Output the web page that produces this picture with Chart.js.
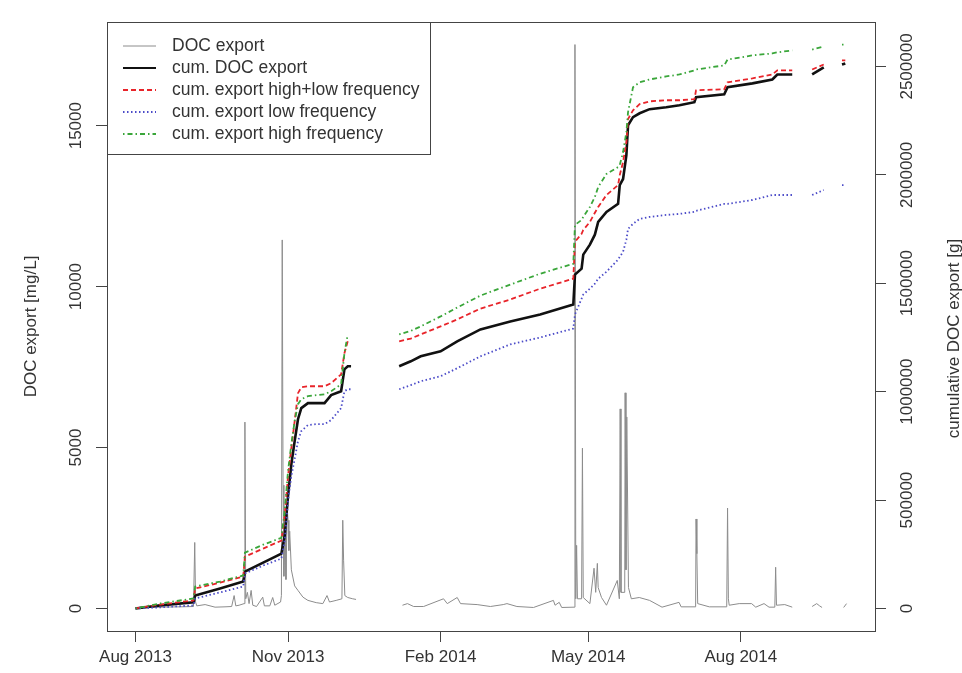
<!DOCTYPE html>
<html>
<head>
<meta charset="utf-8">
<script src="https://cdn.jsdelivr.net/npm/chart.js@4.4.1/dist/chart.umd.min.js"></script>
<style>
  html, body { margin: 0; padding: 0; background: #ffffff; }
  #wrap { width: 962px; height: 673px; }
</style>
</head>
<body>
<div id="wrap"><canvas id="c" width="962" height="673"></canvas></div>
<script>
// ---------------- data ----------------
// DOC export (left axis, mg/L); null marks a gap in the record
const docDates = [
  "2013-08-01","2013-08-16","2013-08-28","2013-09-05","2013-09-05 18","2013-09-06 06","2013-09-07",
  "2013-09-12","2013-09-18","2013-09-24","2013-09-28","2013-09-29 12","2013-09-30 12","2013-10-02 12",
  "2013-10-05 12","2013-10-06","2013-10-06 12","2013-10-07 12","2013-10-08 12","2013-10-09 18","2013-10-10 18",
  "2013-10-13","2013-10-16 18","2013-10-17 18","2013-10-21","2013-10-22 18","2013-10-24","2013-10-27 12",
  "2013-10-28","2013-10-28 12","2013-10-29","2013-10-29 12","2013-10-30 06","2013-10-30 18","2013-10-31 12",
  "2013-11-01","2013-11-01 12","2013-11-02","2013-11-03","2013-11-05","2013-11-07","2013-11-10",
  "2013-11-13","2013-11-18","2013-11-22","2013-11-24 12","2013-11-26","2013-11-30","2013-12-03 12",
  "2013-12-04","2013-12-04 12","2013-12-05 06","2013-12-07","2013-12-10","2013-12-12","2013-12-25",
  "2014-01-09","2014-01-12","2014-01-15 18","2014-01-21 18","2014-02-02 18","2014-02-05","2014-02-11",
  "2014-02-13","2014-02-23","2014-03-03","2014-03-10 18","2014-03-13","2014-03-19","2014-03-29",
  "2014-04-10","2014-04-11","2014-04-13 12","2014-04-15","2014-04-22 12","2014-04-23","2014-04-23 12",
  "2014-04-24","2014-04-24 12","2014-04-27","2014-04-27 12","2014-04-28","2014-05-02","2014-05-04 12",
  "2014-05-05 12","2014-05-06 12","2014-05-07","2014-05-09","2014-05-12","2014-05-18 12","2014-05-19 18",
  "2014-05-20 06","2014-05-20 18","2014-05-23","2014-05-23 06","2014-05-23 18","2014-05-24 06","2014-05-25 06",
  "2014-05-27","2014-05-31 18","2014-06-07","2014-06-14 12","2014-06-24 18","2014-06-26","2014-07-04 18",
  "2014-07-05","2014-07-05 12","2014-07-06","2014-07-13","2014-07-23 12","2014-07-24","2014-07-24 12",
  "2014-07-25","2014-07-31","2014-08-07 12","2014-08-10","2014-08-15","2014-08-18","2014-08-21 12",
  "2014-08-22","2014-08-22 12","2014-08-27 12","2014-09-01","2014-09-07",
  "2014-09-13","2014-09-15 18","2014-09-17 12","2014-09-19","2014-09-25",
  "2014-10-02","2014-10-03 18"
];
const docValues = [
  30,40,50,60,2050,200,80,
  120,40,50,60,400,80,100,
  150,5790,300,500,150,560,100,
  60,350,80,80,340,100,200,
  400,11450,3830,1000,2500,900,3140,
  2740,1800,2400,1200,700,560,350,
  250,180,150,400,200,250,300,
  2740,1500,400,340,300,280,null,
  100,150,60,60,300,150,340,
  150,120,60,120,150,60,30,
  250,100,190,30,40,17520,300,
  1960,300,300,4980,340,150,1250,
  500,1400,650,340,100,870,300,
  6200,500,500,6700,1200,5950,650,
  300,340,250,40,190,50,50,
  2780,1700,150,50,50,3120,300,
  100,150,150,40,150,40,40,
  1280,100,120,40,null,
  60,150,80,30,null,
  30,150
];

// cumulative series (right axis, g); null marks a gap
const cumDates = [
  "2013-08-01","2013-08-16","2013-09-05","2013-09-06","2013-09-21","2013-10-05","2013-10-06","2013-10-17",
  "2013-10-28","2013-10-30","2013-11-01","2013-11-03","2013-11-05","2013-11-07","2013-11-09","2013-11-13",
  "2013-11-18","2013-11-23","2013-11-27","2013-12-03","2013-12-05","2013-12-07","2013-12-09",
  "2013-12-25",
  "2014-01-07","2014-01-14","2014-01-20","2014-02-01","2014-02-11","2014-02-25","2014-03-15","2014-04-02",
  "2014-04-22","2014-04-23","2014-04-27","2014-04-28","2014-05-02","2014-05-05","2014-05-07","2014-05-12",
  "2014-05-19","2014-05-20","2014-05-22","2014-05-24","2014-05-25","2014-05-28","2014-06-01","2014-06-07",
  "2014-06-17","2014-06-25","2014-07-04","2014-07-05","2014-07-22","2014-07-24","2014-08-08","2014-08-20",
  "2014-08-23","2014-09-01",
  "2014-09-07",
  "2014-09-13","2014-09-20",
  "2014-09-26",
  "2014-10-01","2014-10-03"
];
const cumDOC = [
  0,14000,28000,60000,92000,124000,170000,211000,
  253000,336000,519000,666000,772000,873000,924000,947000,
  947000,947000,984000,1002000,1103000,1117000,1117000,
  null,
  1117000,1140000,1163000,1186000,1232000,1287000,1324000,1356000,
  1402000,1540000,1567000,1632000,1678000,1724000,1783000,1829000,
  1866000,1953000,1981000,2091000,2229000,2266000,2284000,2303000,
  2312000,2321000,2335000,2358000,2372000,2404000,2422000,2440000,
  2463000,2463000,
  null,
  2463000,2496000,
  null,
  2509000,2514000
];
const cumHighLow = [
  0,18000,37000,92000,119000,147000,239000,276000,
  313000,427000,611000,740000,864000,993000,1020000,1025000,
  1025000,1025000,1039000,1080000,1177000,1232000,null,
  null,
  1232000,1245000,1264000,1301000,1333000,1383000,1425000,1475000,
  1521000,1691000,1728000,1746000,1783000,1825000,1852000,1907000,
  1953000,1999000,2059000,2151000,2257000,2298000,2326000,2339000,
  2344000,2344000,2349000,2390000,2395000,2427000,2445000,2463000,
  2482000,2482000,
  null,
  2486000,2509000,
  null,
  2528000,2528000
];
const cumLow = [
  0,5000,14000,46000,74000,101000,161000,198000,
  230000,313000,496000,611000,689000,772000,818000,846000,
  850000,850000,869000,924000,1002000,1011000,1011000,
  null,
  1011000,1030000,1048000,1071000,1108000,1163000,1218000,1250000,
  1291000,1356000,1429000,1448000,1475000,1498000,1521000,1553000,
  1609000,1622000,1645000,1701000,1751000,1774000,1797000,1806000,
  1815000,1820000,1829000,1834000,1866000,1866000,1884000,1907000,
  1907000,1907000,
  null,
  1907000,1930000,
  null,
  1953000,1953000
];
const cumHigh = [
  0,23000,46000,101000,124000,152000,257000,294000,
  326000,450000,634000,758000,864000,942000,965000,979000,
  984000,988000,1002000,1034000,1177000,1264000,null,
  null,
  1264000,1280000,1301000,1347000,1388000,1443000,1494000,1544000,
  1590000,1769000,1792000,1806000,1852000,1898000,1944000,2004000,
  2036000,2045000,2105000,2197000,2289000,2404000,2427000,2440000,
  2454000,2463000,2482000,2486000,2505000,2532000,2551000,2560000,
  2565000,2574000,
  null,
  2578000,2592000,
  null,
  2601000,2601000
];

// axes
const xTickDates  = ["2013-08-01","2013-11-01","2014-02-01","2014-05-01","2014-08-01"];
const xTickLabels = ["Aug 2013","Nov 2013","Feb 2014","May 2014","Aug 2014"];
const leftTicks   = [0, 5000, 10000, 15000];
const rightTicks  = [0, 500000, 1000000, 1500000, 2000000, 2500000];

// ---------------- helpers ----------------
const ORIGIN = Date.UTC(2013, 7, 1);
function dayOf(s) {
  const parts = s.split(' ');
  const ymd = parts[0].split('-').map(Number);
  const h = parts.length > 1 ? Number(parts[1]) : 0;
  return (Date.UTC(ymd[0], ymd[1] - 1, ymd[2], h) - ORIGIN) / 864e5;
}
function pts(dates, vals) {
  return dates.map((d, i) => ({ x: dayOf(d), y: vals[i] }));
}
const xTickDays = xTickDates.map(dayOf);

// axis ranges with R-style 4% extension
function extend(lo, hi) { const r = hi - lo; return [lo - 0.04 * r, hi + 0.04 * r]; }
const allDocDays = docDates.map(dayOf);
const xR = extend(0, Math.max(...allDocDays));
const docNums = docValues.filter(v => v !== null);
const yL = extend(0, Math.max(...docNums));
const cumNums = [...cumDOC, ...cumHighLow, ...cumLow, ...cumHigh].filter(v => v !== null);
const yR = extend(0, Math.max(...cumNums));

const FONT = "'Liberation Sans', Arial, sans-serif";
const TXT = '#333333';

const datasets = [
  { label: 'DOC export', data: pts(docDates, docValues), yAxisID: 'yL',
    borderColor: '#8c8c8c', borderWidth: 1, order: 10 },
  { label: 'cum. DOC export', data: pts(cumDates, cumDOC), yAxisID: 'yR',
    borderColor: '#111111', borderWidth: 2.6, order: 3 },
  { label: 'cum. export high+low frequency', data: pts(cumDates, cumHighLow), yAxisID: 'yR',
    borderColor: '#e8242a', borderWidth: 1.8, borderDash: [5, 3], order: 2 },
  { label: 'cum. export low frequency', data: pts(cumDates, cumLow), yAxisID: 'yR',
    borderColor: '#4b4bc8', borderWidth: 1.8, borderDash: [1.5, 2.5], order: 1 },
  { label: 'cum. export high frequency', data: pts(cumDates, cumHigh), yAxisID: 'yR',
    borderColor: '#3aa63a', borderWidth: 1.8, borderDash: [1.5, 3, 5, 3], order: 0 }
];

// ---------------- decorations plugin (R-style box, rotated labels, legend) ----------------
const rDecor = {
  id: 'rDecor',
  afterDraw(chart) {
    const ctx = chart.ctx;
    const a = chart.chartArea;
    const sl = chart.scales.yL, sr = chart.scales.yR;
    ctx.save();
    // plot frame
    ctx.strokeStyle = '#444444';
    ctx.lineWidth = 1;
    ctx.strokeRect(Math.round(a.left) + 0.5, Math.round(a.top) + 0.5,
                   Math.round(a.right - a.left), Math.round(a.bottom - a.top));

    ctx.fillStyle = TXT;
    ctx.font = '17px ' + FONT;
    ctx.textAlign = 'center';
    ctx.textBaseline = 'middle';
    // left tick labels (rotated)
    leftTicks.forEach(v => {
      const y = sl.getPixelForValue(v);
      ctx.save(); ctx.translate(76, y); ctx.rotate(-Math.PI / 2);
      ctx.fillText(String(v), 0, 0); ctx.restore();
    });
    // right tick labels (rotated)
    rightTicks.forEach(v => {
      const y = sr.getPixelForValue(v);
      ctx.save(); ctx.translate(907, y); ctx.rotate(-Math.PI / 2);
      ctx.fillText(String(v), 0, 0); ctx.restore();
    });
    // axis titles
    const cy = (a.top + a.bottom) / 2;
    ctx.save(); ctx.translate(31, cy); ctx.rotate(-Math.PI / 2);
    ctx.fillText('DOC export [mg/L]', 0, 0); ctx.restore();
    ctx.save(); ctx.translate(954, cy + 12); ctx.rotate(-Math.PI / 2);
    ctx.fillText('cumulative DOC export [g]', 0, 0); ctx.restore();

    // legend box
    const lx = Math.round(a.left) + 0.5, ly = Math.round(a.top) + 0.5;
    const lw = 323, lh = 132;
    ctx.fillStyle = '#ffffff';
    ctx.fillRect(lx, ly, lw, lh);
    ctx.strokeStyle = '#444444';
    ctx.lineWidth = 1;
    ctx.strokeRect(lx, ly, lw, lh);
    const rows = [46, 68, 90, 112, 134];
    chart.data.datasets.forEach((ds, i) => {
      const y = rows[i];
      ctx.save();
      ctx.strokeStyle = ds.borderColor;
      ctx.lineWidth = Math.min(ds.borderWidth, 2);
      ctx.setLineDash(ds.borderDash || []);
      ctx.beginPath(); ctx.moveTo(123, y); ctx.lineTo(156, y); ctx.stroke();
      ctx.restore();
      ctx.fillStyle = TXT;
      ctx.textAlign = 'left';
      ctx.textBaseline = 'middle';
      ctx.font = '17.5px ' + FONT;
      ctx.fillText(ds.label, 172, y);
    });
    ctx.restore();
  }
};

const axisGrid = { drawOnChartArea: false, drawTicks: true, tickLength: 11, color: '#444444', lineWidth: 1 };

new Chart(document.getElementById('c'), {
  type: 'line',
  data: { datasets },
  options: {
    responsive: false,
    animation: false,
    devicePixelRatio: 1,
    spanGaps: false,
    parsing: true,
    layout: { padding: { top: 22, left: 0, right: 0, bottom: 0 } },
    elements: { point: { radius: 0, hitRadius: 0 }, line: { tension: 0, fill: false } },
    plugins: { legend: { display: false }, tooltip: { enabled: false } },
    scales: {
      x: {
        type: 'linear', min: xR[0], max: xR[1],
        afterBuildTicks: ax => { ax.ticks = xTickDays.map(v => ({ value: v })); },
        afterFit: ax => { ax.height = 42; },
        grid: axisGrid,
        border: { display: true, color: '#444444' },
        ticks: {
          autoSkip: false, maxRotation: 0, minRotation: 0, padding: 5,
          color: TXT, font: { family: FONT, size: 17 },
          callback: v => {
            const i = xTickDays.findIndex(d => Math.abs(d - v) < 0.01);
            return i >= 0 ? xTickLabels[i] : '';
          }
        }
      },
      yL: {
        type: 'linear', position: 'left', min: yL[0], max: yL[1],
        afterBuildTicks: ax => { ax.ticks = leftTicks.map(v => ({ value: v })); },
        afterFit: ax => { ax.width = 107; },
        grid: axisGrid,
        border: { display: true, color: '#444444' },
        ticks: { display: false }
      },
      yR: {
        type: 'linear', position: 'right', min: yR[0], max: yR[1],
        afterBuildTicks: ax => { ax.ticks = rightTicks.map(v => ({ value: v })); },
        afterFit: ax => { ax.width = 87; },
        grid: axisGrid,
        border: { display: true, color: '#444444' },
        ticks: { display: false }
      }
    }
  },
  plugins: [rDecor]
});
</script>
</body>
</html>
